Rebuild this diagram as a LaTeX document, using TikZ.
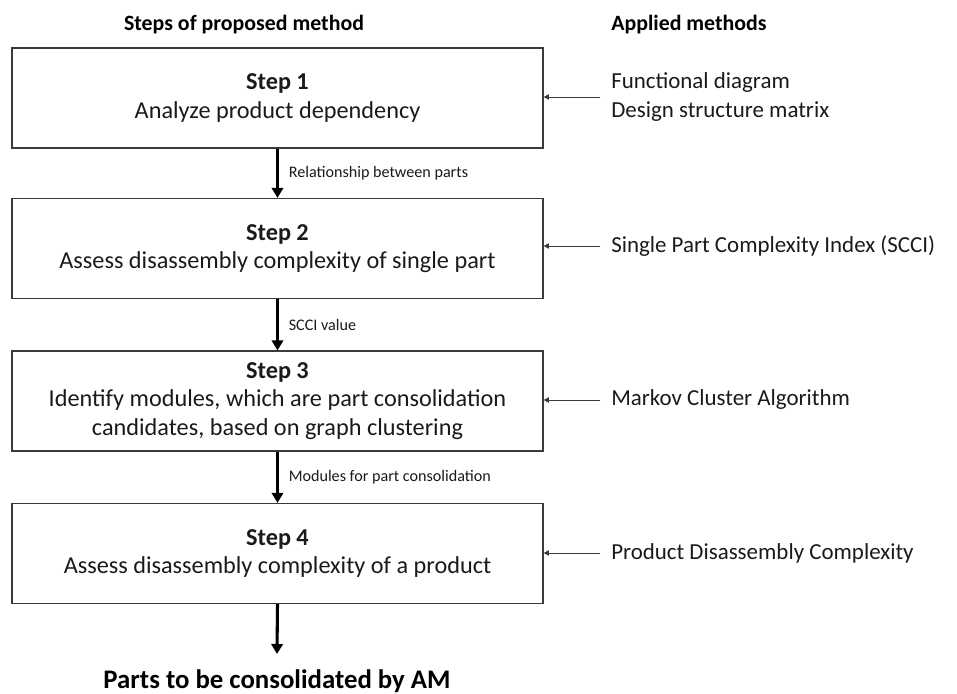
\documentclass[tikz,border=0pt]{standalone}
\usepackage{fontspec}
\setmainfont{Carlito}
\usetikzlibrary{arrows.meta}
\definecolor{ln}{HTML}{3A3A3A}
\definecolor{tx}{HTML}{1A1A1A}
\begin{document}
\begin{tikzpicture}[x=0.75pt,y=-0.75pt,
  box/.style={draw=ln,line width=0.9pt,minimum width=398.25pt,minimum height=75pt,
    align=center,inner sep=0pt,font=\fontsize{18.2}{21.5}\selectfont,text=tx},
  flow/.style={line width=2.3pt,draw=black,-{Triangle[length=7.5pt,width=8.5pt]}},
  side/.style={line width=0.7pt,draw=ln,-{Triangle[length=4pt,width=4pt]}},
  meth/.style={anchor=west,align=left,inner xsep=8.25pt,inner ysep=0pt,
    font=\fontsize{17.2}{21.5}\selectfont,text=tx},
  lab/.style={right,font=\fontsize{12.1}{14}\selectfont,text=tx,xshift=4pt},
  head/.style={font=\bfseries\fontsize{16.4}{19}\selectfont,text=black}]
\useasboundingbox (0,0) rectangle (957,693);
\node[head] (h1) at (244,25) {Steps of proposed method};
\node[head,anchor=west,inner xsep=0pt] (h2) at (611,25) {Applied methods};

\node[box] (s1) at (277.5,98) {\textbf{Step 1}\\Analyze product dependency};
\node[box] (s2) at (277.5,248.5) {\textbf{Step 2}\\Assess disassembly complexity of single part};
\node[box] (s3) at (277.5,401) {\textbf{Step 3}\\Identify modules, which are part consolidation\\candidates, based on graph clustering};
\node[box] (s4) at (277.5,553.5) {\textbf{Step 4}\\Assess disassembly complexity of a product};
\node[font=\bfseries\fontsize{20.1}{24}\selectfont,text=black] (out) at (277,681) {Parts to be consolidated by AM};
\coordinate (oute) at (277,654);

\node[meth] (m1) at (600,97) {Functional diagram\\Design structure matrix};
\node[meth] (m2) at (600,246) {Single Part Complexity Index (SCCI)};
\node[meth] (m3) at (600,400) {Markov Cluster Algorithm};
\node[meth] (m4) at (600,553) {Product Disassembly Complexity};

\draw[flow] (s1.south) -- node[lab] {Relationship between parts} (s2.north);
\draw[flow] (s2.south) -- node[lab] {SCCI value} (s3.north);
\draw[flow] (s3.south) -- node[lab] {Modules for part consolidation} (s4.north);
\draw[flow] (s4.south) -- (oute);

\draw[side] (m1.west) -- (m1.west -| s1.east);
\draw[side] (m2.west) -- (m2.west -| s2.east);
\draw[side] (m3.west) -- (m3.west -| s3.east);
\draw[side] (m4.west) -- (m4.west -| s4.east);
\end{tikzpicture}
\end{document}
